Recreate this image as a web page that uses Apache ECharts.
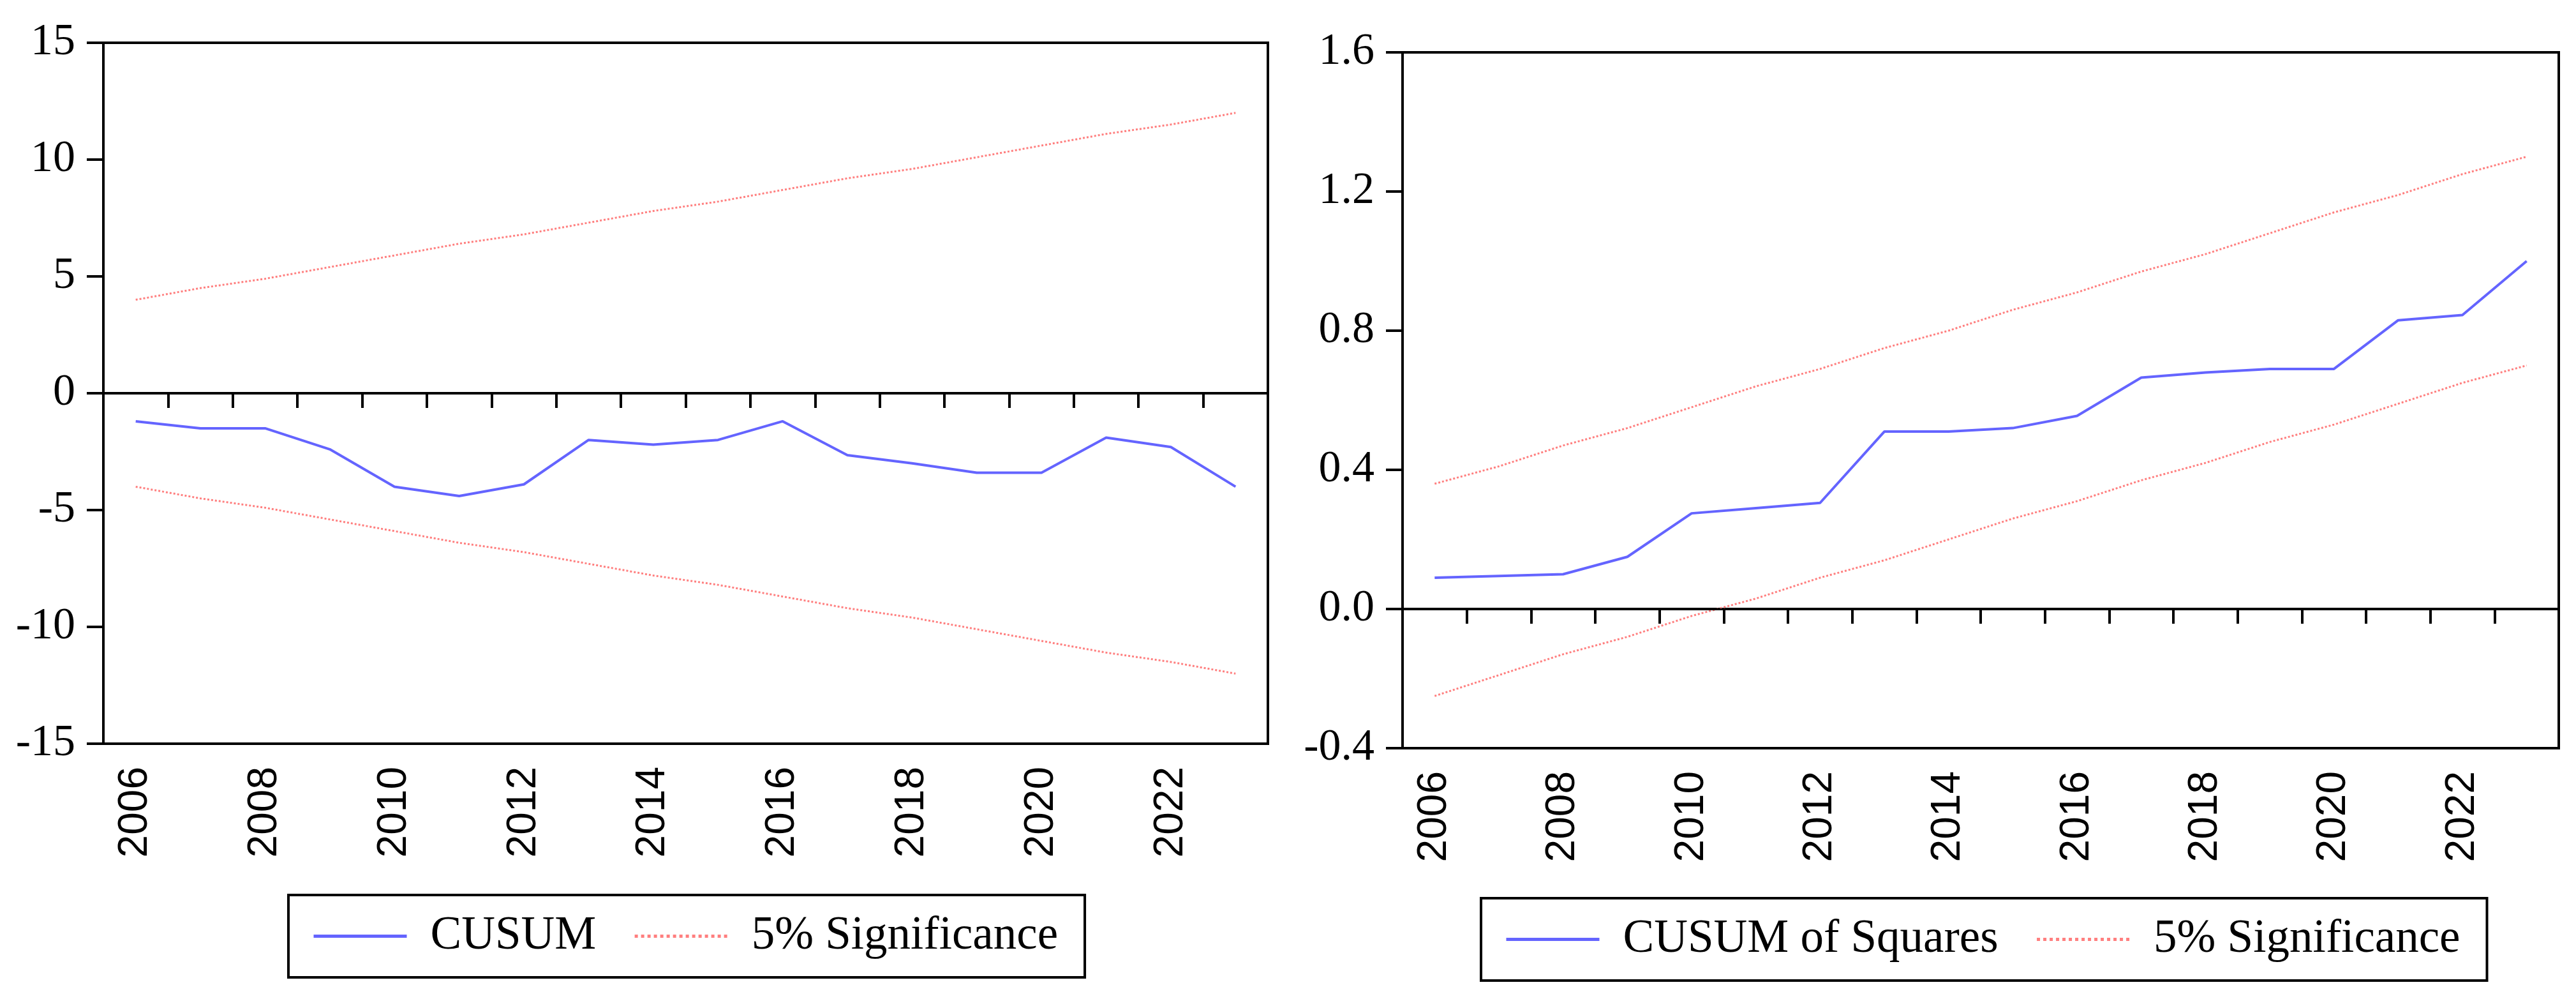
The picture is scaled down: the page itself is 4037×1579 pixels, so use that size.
<!DOCTYPE html>
<html>
<head>
<meta charset="utf-8">
<script src="https://cdn.jsdelivr.net/npm/echarts@6/dist/echarts.min.js"></script>
<style>
html,body{margin:0;padding:0;background:#fff;}
#chart{width:4037px;height:1579px;}
</style>
</head>
<body>
<div id="chart"></div>
<script>
// ---- data ----
const years = ['2006','2007','2008','2009','2010','2011','2012','2013','2014','2015','2016','2017','2018','2019','2020','2021','2022','2023'];

const cusum      = [-1.2, -1.5, -1.5, -2.4, -4.0, -4.4, -3.9, -2.0, -2.2, -2.0, -1.2, -2.65, -3.0, -3.4, -3.4, -1.9, -2.3, -4.0];
const cusumUpper = [4.0, 4.5, 4.9, 5.4, 5.9, 6.4, 6.8, 7.3, 7.8, 8.2, 8.7, 9.2, 9.6, 10.1, 10.6, 11.1, 11.5, 12.0];
const cusumLower = [-4.0, -4.5, -4.9, -5.4, -5.9, -6.4, -6.8, -7.3, -7.8, -8.2, -8.7, -9.2, -9.6, -10.1, -10.6, -11.1, -11.5, -12.0];

const cusumSq      = [0.09, 0.095, 0.10, 0.15, 0.275, 0.29, 0.305, 0.51, 0.51, 0.52, 0.555, 0.665, 0.68, 0.69, 0.69, 0.83, 0.845, 1.0];
const cusumSqUpper = [0.36, 0.41, 0.47, 0.52, 0.58, 0.64, 0.69, 0.75, 0.80, 0.86, 0.91, 0.97, 1.02, 1.08, 1.14, 1.19, 1.25, 1.30];
const cusumSqLower = [-0.25, -0.19, -0.13, -0.08, -0.02, 0.03, 0.09, 0.14, 0.20, 0.26, 0.31, 0.37, 0.42, 0.48, 0.53, 0.59, 0.65, 0.70];

const leftLegend  = ['CUSUM', '5% Significance'];
const rightLegend = ['CUSUM of Squares', '5% Significance'];

// ---- styles ----
const BLUE = '#6464ff';
const RED = '#ff7f7f';
const SERIF = '"Liberation Serif", "Times New Roman", serif';
const SANS = '"Liberation Sans", Arial, sans-serif';

function xAxisCfg(gridIndex){
  return {
    type:'category', gridIndex, data: years, boundaryGap:true,
    axisLine:{show:true, lineStyle:{color:'#000', width:4}},
    axisTick:{show:true, interval:0, length:23, inside:false, lineStyle:{color:'#000', width:4}},
    axisLabel:{interval:1, rotate:90, margin:36, fontFamily:SANS, fontSize:64, color:'#000', padding:[0,0,34,0]},
    splitLine:{show:false}
  };
}
function yAxisCfg(gridIndex, min, max, interval, fmt){
  return {
    type:'value', gridIndex, min, max, interval,
    axisLine:{show:true, lineStyle:{color:'#000', width:4}},
    axisTick:{show:true, length:26, inside:false, lineStyle:{color:'#000', width:4}},
    axisLabel:{margin:44, fontFamily:SERIF, fontSize:70, color:'#000', formatter: fmt},
    splitLine:{show:false}
  };
}
const zeroLine = {
  silent:true, symbol:['none','none'], animation:false,
  label:{show:false},
  lineStyle:{color:'#000', width:3, type:'solid'},
  data:[{yAxis:0}]
};
function lineSeries(name, data, xi, color, type, width, mark){
  const s = {
    name, type:'line', data, xAxisIndex:xi, yAxisIndex:xi,
    symbol:'none', smooth:false,
    lineStyle:{color, width, type}, itemStyle:{color},
    z: type === 'solid' ? 3 : 2
  };
  if (mark) s.markLine = zeroLine;
  return s;
}
function legendCfg(data, left, top){
  return {
    data, left, top, orient:'horizontal',
    itemWidth:146, itemHeight:20, itemGap:58,
    padding:[28, 42, 28, 37],
    borderColor:'#000', borderWidth:4,
    itemStyle:{opacity:0},
    lineStyle:{width:5},
    textStyle:{fontFamily:SERIF, fontSize:73, color:'#000', padding:[0,0,0,32]},
    selectedMode:false
  };
}

const chart = echarts.init(document.getElementById('chart'), null, {renderer:'canvas'});
chart.setOption({
  animation:false,
  backgroundColor:'#fff',
  grid:[
    {left:162, top:67, width:1825, height:1098, show:true, borderColor:'#000', borderWidth:4, containLabel:false},
    {left:2198, top:82, width:1812, height:1090, show:true, borderColor:'#000', borderWidth:4, containLabel:false}
  ],
  xAxis:[xAxisCfg(0), xAxisCfg(1)],
  yAxis:[
    yAxisCfg(0, -15, 15, 5, v => String(v)),
    yAxisCfg(1, -0.4, 1.6, 0.4, v => v.toFixed(1))
  ],
  legend:[
    legendCfg(leftLegend, 452, 1402),
    legendCfg(rightLegend, 2321, 1407)
  ],
  series:[
    lineSeries('CUSUM', cusum, 0, BLUE, 'solid', 4, true),
    lineSeries('5% Significance', cusumUpper, 0, RED, 'dotted', 3),
    lineSeries('5% Significance', cusumLower, 0, RED, 'dotted', 3),
    lineSeries('CUSUM of Squares', cusumSq, 1, BLUE, 'solid', 4, true),
    lineSeries('5% Significance', cusumSqUpper, 1, RED, 'dotted', 3),
    lineSeries('5% Significance', cusumSqLower, 1, RED, 'dotted', 3)
  ]
});
</script>
</body>
</html>
